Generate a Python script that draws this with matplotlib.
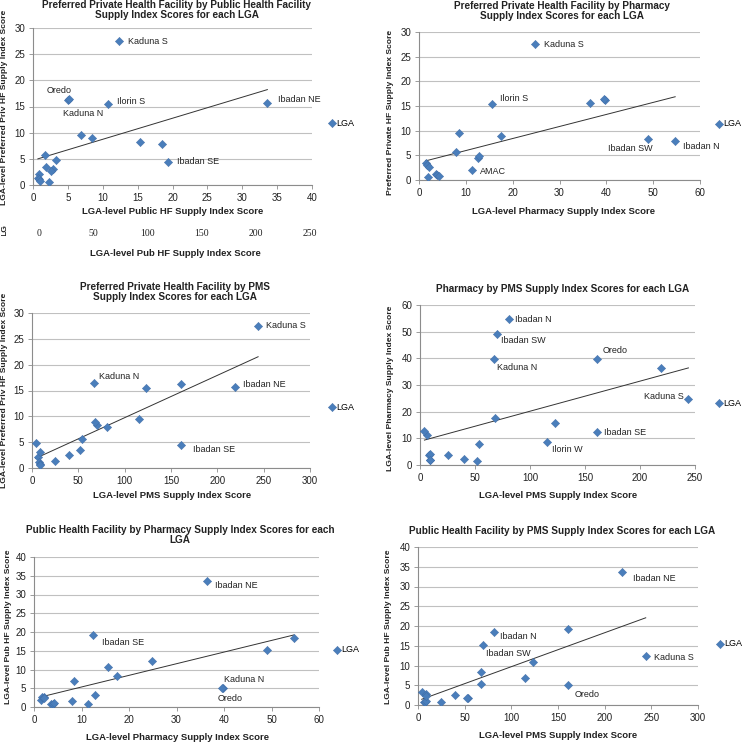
import matplotlib
matplotlib.use("Agg")
import matplotlib.pyplot as plt
import numpy as np
from matplotlib.transforms import Bbox, TransformedBbox

# LGA-level supply index scores (one entry per LGA)
lga_names = ["Kaduna S", "Ibadan NE", "Oredo", "Kaduna N", "Ilorin S",
             "Ibadan SE", "Ibadan N", "Ibadan SW", "Ilorin W", "AMAC",
             "", "", "", "", "", "", "", "", "", ""]
pub_hf   = [12.4, 33.6, 5.0, 5.2, 10.8, 19.3, 18.5, 15.3, 6.9, 0.8,
            8.4, 1.7, 3.3, 1.8, 2.8, 2.6, 0.7, 0.8, 1.0, 2.3]
priv_hf  = [27.5, 15.6, 16.3, 16.5, 15.5, 4.4, 7.9, 8.3, 9.5, 2.1,
            8.9, 5.7, 4.8, 3.4, 3.1, 2.6, 1.3, 1.1, 0.8, 0.6]
pharmacy = [24.8, 36.5, 39.8, 39.6, 15.6, 12.5, 54.7, 49.0, 8.5, 11.4,
            17.5, 8.0, 12.8, 1.4, 1.7, 2.2, 3.6, 3.9, 4.3, 2.0]
pms      = [244, 219, 161, 67, 123, 161, 81, 70, 115, 6,
            68, 54, 4, 52, 9, 40, 25, 8, 9, 9]

W, H = 744, 742
BLUE = "#4a7ebb"
GRID = "#c0c0c0"
AXIS = "#8c8c8c"
TXT = "#222222"

plt.rcParams["font.family"] = ["Liberation Sans", "DejaVu Sans"]


def fx(x):
    return x / W


def fy(y):
    return 1 - y / H


def label(fig, x, y, s, rot=0, size=6.8, bold=True, **kw):
    return fig.text(fx(x), fy(y), s, rotation=rot, ha="center", va="center",
                    fontsize=size, fontweight="bold" if bold else "normal",
                    color=TXT, linespacing=1.0, **kw)


PANELS = [
    dict(x=pub_hf, y=priv_hf, box=(33, 28, 312, 185), xmax=40, xstep=5, ymax=30, ystep=5,
         title="Preferred Private Health Facility by Public Health Facility\nSupply Index Scores for each LGA",
         title_xy=(177, 10), xlabel="LGA-level Public HF Supply Index Score", xlabel_xy=(173, 212),
         ylabel="LGA-level Preferred Priv HF Supply Index Score", ylabel_xy=(5, 107), legend_xy=(333, 123),
         notes=[("Kaduna S", 9, 0, "left"), ("Oredo", -9, 9, "center"), ("Kaduna N", 14, -15, "center"),
                ("Ilorin S", 9, 2, "left"), ("Ibadan NE", 11, 4, "left"), ("Ibadan SE", 9, 0, "left")]),
    dict(x=pharmacy, y=priv_hf, box=(419, 32, 700, 180), xmax=60, xstep=10, ymax=30, ystep=5,
         title="Preferred Private Health Facility by Pharmacy\nSupply Index Scores for each LGA",
         title_xy=(562, 11), xlabel="LGA-level Pharmacy Supply Index Score", xlabel_xy=(563, 211),
         ylabel="Preferred Private HF Supply Index Score", ylabel_xy=(390, 112), legend_xy=(720, 124),
         notes=[("Kaduna S", 9, 0, "left"), ("Ilorin S", 8, 5, "left"), ("AMAC", 8, -2, "left"),
                ("Ibadan SW", -18, -9, "center"), ("Ibadan N", 8, -5, "left")]),
    dict(x=pms, y=priv_hf, box=(32, 313, 310, 468), xmax=300, xstep=50, ymax=30, ystep=5,
         title="Preferred Private Health Facility by PMS\nSupply Index Scores for each LGA",
         title_xy=(175, 292), xlabel="LGA-level PMS Supply Index Score", xlabel_xy=(172, 495),
         ylabel="LGA-level Preferred Priv HF Supply Index Score", ylabel_xy=(5, 390), legend_xy=(333, 407),
         notes=[("Kaduna S", 8, 0, "left"), ("Kaduna N", 5, 6, "left"), ("Ibadan NE", 8, 3, "left"),
                ("Ibadan SE", 12, -4, "left")]),
    dict(x=pms, y=pharmacy, box=(420, 305, 695, 465), xmax=250, xstep=50, ymax=60, ystep=10,
         title="Pharmacy by PMS Supply Index Scores for each LGA",
         title_xy=(563, 289), xlabel="LGA-level PMS Supply Index Score", xlabel_xy=(558, 495),
         ylabel="LGA-level Pharmacy Supply Index Score", ylabel_xy=(391, 388), legend_xy=(720, 403),
         notes=[("Ibadan N", 6, 0, "left"), ("Ibadan SW", 4, -6, "left"), ("Oredo", 6, 8, "left"),
                ("Kaduna N", 3, -8, "left"), ("Kaduna S", -5, 2, "right"), ("Ibadan SE", 7, -1, "left"),
                ("Ilorin W", 5, -7, "left")]),
    dict(x=pharmacy, y=pub_hf, box=(34, 557, 319, 707), xmax=60, xstep=10, ymax=40, ystep=5,
         title="Public Health Facility by Pharmacy Supply Index Scores for each\nLGA",
         title_xy=(180, 535), xlabel="LGA-level Pharmacy Supply Index Score", xlabel_xy=(177, 737),
         ylabel="LGA-level Pub HF Supply Index Score", ylabel_xy=(9, 627), legend_xy=(338, 650),
         notes=[("Ibadan NE", 8, -4, "left"), ("Ibadan SE", 9, -8, "left"), ("Kaduna N", 2, 8, "left"),
                ("Oredo", -5, -10, "left")]),
    dict(x=pms, y=pub_hf, box=(418, 547, 698, 705), xmax=300, xstep=50, ymax=40, ystep=5,
         title="Public Health Facility by PMS Supply Index Scores for each LGA",
         title_xy=(562, 531), xlabel="LGA-level PMS Supply Index Score", xlabel_xy=(558, 736),
         ylabel="LGA-level Pub HF Supply Index Score", ylabel_xy=(389, 627), legend_xy=(721, 644),
         notes=[("Ibadan NE", 11, -6, "left"), ("Ibadan N", 6, -5, "left"), ("Ibadan SW", 3, -9, "left"),
                ("Kaduna S", 8, -1, "left"), ("Oredo", 6, -9, "left")]),
]


def draw_panel(fig, p):
    l, t, r, b = p["box"]
    ax = fig.add_axes([fx(l), fy(b), (r - l) / W, (b - t) / H])
    x = np.array(p["x"], dtype=float)
    y = np.array(p["y"], dtype=float)

    ax.scatter(x, y, marker="D", s=18, color=BLUE, edgecolors="#3d6aa3",
               linewidths=0.3, zorder=3, label="LGA")

    # linear trendline, as Excel draws it
    k, c = np.polyfit(x, y, 1)
    xs = np.array([x.min(), x.max()])
    ax.plot(xs, k * xs + c, color="#333333", linewidth=0.7, zorder=2)

    ax.set_xlim(0, p["xmax"])
    ax.set_ylim(0, p["ymax"])
    ax.set_xticks(np.arange(0, p["xmax"] + 1, p["xstep"]))
    ax.set_yticks(np.arange(0, p["ymax"] + 1, p["ystep"]))
    ax.grid(True, axis="y", color=GRID, linewidth=0.8)
    ax.set_axisbelow(True)
    for side in ("top", "right"):
        ax.spines[side].set_visible(False)
    for side in ("left", "bottom"):
        ax.spines[side].set_color(AXIS)
        ax.spines[side].set_linewidth(0.8)
    ax.tick_params(labelsize=7, colors=AXIS, labelcolor=TXT, length=3, width=0.6, pad=2.5)

    for name, dx, dy, ha in p["notes"]:
        i = lga_names.index(name)
        ax.annotate(name, (x[i], y[i]), xytext=(dx, dy), textcoords="offset pixels",
                    ha=ha, va="center", fontsize=6.5, color=TXT)

    lx, ly = p["legend_xy"]
    ax.legend(loc="center left", bbox_to_anchor=((lx - 3 - l) / (r - l), (b - ly) / (b - t)),
              frameon=False, fontsize=6.5, handlelength=0.5, handletextpad=0.15,
              borderpad=0, borderaxespad=0, scatterpoints=1)

    label(fig, *p["title_xy"], p["title"], size=7.2)
    label(fig, *p["xlabel_xy"], p["xlabel"])
    label(fig, *p["ylabel_xy"], p["ylabel"], rot=90, size=6.1)
    return ax


fig = plt.figure(figsize=(W / 100, H / 100), dpi=100, facecolor="white")

for p in PANELS:
    draw_panel(fig, p)

# leftover fragment of another chart pasted under the first panel
frag = fig.add_axes([fx(39), fy(226), (310 - 39) / W, 0.001])
frag.set_xlim(0, 250)
frag.set_xticks(np.arange(0, 251, 50))
frag.set_yticks([])
for s in frag.spines.values():
    s.set_visible(False)
frag.tick_params(length=0, pad=2.5, labelsize=7, labelcolor=TXT)
for tl in frag.get_xticklabels():
    tl.set_family(["Liberation Serif", "DejaVu Serif"])
label(fig, 175, 253, "LGA-level Pub HF Supply Index Score")
cut = fig.text(fx(1), fy(236), "LG", rotation=90, ha="left", va="bottom",
               fontsize=6.1, fontweight="bold", color=TXT)
cut.set_clip_box(TransformedBbox(Bbox.from_extents(0, fy(236), fx(12), fy(226)), fig.transFigure))
cut.set_clip_on(True)

fig.savefig("out.png", dpi=100, facecolor="white")
